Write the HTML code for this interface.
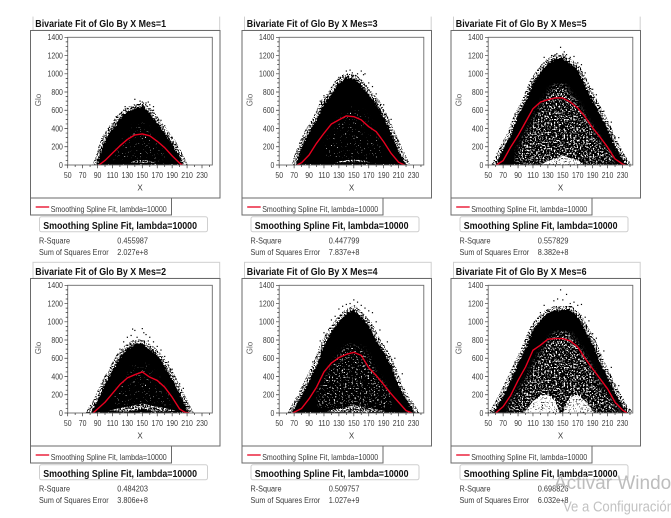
<!DOCTYPE html>
<html lang="en">
<head>
<meta charset="utf-8">
<title>Bivariate Fit of Glo By X</title>
<style>
html,body{margin:0;padding:0;background:#fff;width:671px;height:518px;overflow:hidden}
svg{display:block;font-family:"Liberation Sans",Arial,sans-serif;filter:blur(.3px)}
</style>
</head>
<body>
<svg id="chart" xmlns="http://www.w3.org/2000/svg" width="671" height="518" viewBox="0 0 671 518">
<defs>
<clipPath id="plot-clip"><rect x="67.7" y="37.3" width="144.6" height="127.7"/></clipPath>
<filter id="rough" x="-6%" y="-6%" width="112%" height="112%" color-interpolation-filters="sRGB">
<feTurbulence type="fractalNoise" baseFrequency="0.55" numOctaves="2" seed="7" result="n"/>
<feDisplacementMap in="SourceGraphic" in2="n" scale="5" xChannelSelector="R" yChannelSelector="G"/>
</filter>
<filter id="fringe" x="-10%" y="-10%" width="120%" height="120%" color-interpolation-filters="sRGB">
<feTurbulence type="fractalNoise" baseFrequency="0.7" numOctaves="2" seed="5" result="n"/>
<feColorMatrix in="n" type="matrix" values="0 0 0 0 0 0 0 0 0 0 0 0 0 0 0 14 0 0 0 -7"/>
<feComposite in2="SourceAlpha" operator="in"/>
</filter>
<filter id="fleck-light" x="0" y="0" width="100%" height="100%" color-interpolation-filters="sRGB">
<feGaussianBlur in="SourceAlpha" stdDeviation="2.5" result="soft"/>
<feTurbulence type="fractalNoise" baseFrequency="0.62" numOctaves="2" seed="11" result="n"/>
<feColorMatrix in="n" type="matrix" values="0 0 0 0 1 0 0 0 0 1 0 0 0 0 1 14 0 0 0 -10"/>
<feComposite in2="soft" operator="in"/>
</filter>
<filter id="fleck-medium" x="0" y="0" width="100%" height="100%" color-interpolation-filters="sRGB">
<feGaussianBlur in="SourceAlpha" stdDeviation="2.5" result="soft"/>
<feTurbulence type="fractalNoise" baseFrequency="0.62" numOctaves="2" seed="23" result="n"/>
<feColorMatrix in="n" type="matrix" values="0 0 0 0 1 0 0 0 0 1 0 0 0 0 1 14 0 0 0 -9"/>
<feComposite in2="soft" operator="in"/>
</filter>
<filter id="fleck-heavy" x="0" y="0" width="100%" height="100%" color-interpolation-filters="sRGB">
<feGaussianBlur in="SourceAlpha" stdDeviation="2.5" result="soft"/>
<feTurbulence type="fractalNoise" baseFrequency="0.62" numOctaves="2" seed="31" result="n"/>
<feColorMatrix in="n" type="matrix" values="0 0 0 0 1 0 0 0 0 1 0 0 0 0 1 14 0 0 0 -7.7"/>
<feComposite in2="soft" operator="in"/>
</filter>
<filter id="hollow" x="0" y="0" width="100%" height="100%" color-interpolation-filters="sRGB">
<feTurbulence type="fractalNoise" baseFrequency="0.7" numOctaves="2" seed="17" result="n"/>
<feColorMatrix in="n" type="matrix" values="0 0 0 0 1 0 0 0 0 1 0 0 0 0 1 14 0 0 0 -4.6"/>
<feComposite in2="SourceAlpha" operator="in"/>
</filter>
<filter id="hollow-dense" x="0" y="0" width="100%" height="100%" color-interpolation-filters="sRGB">
<feTurbulence type="fractalNoise" baseFrequency="0.7" numOctaves="2" seed="19" result="n"/>
<feColorMatrix in="n" type="matrix" values="0 0 0 0 1 0 0 0 0 1 0 0 0 0 1 14 0 0 0 -6.6"/>
<feComposite in2="SourceAlpha" operator="in"/>
</filter>
</defs>
</svg>
<script>
// Shared axis labels
const xTickLabels = [50,70,90,110,130,150,170,190,210,230];
const yTickLabels = [0,200,400,600,800,1000,1200,1400];
const xMinorTicks = [60,80,100,120,140,160,180,200,220,240];
const yMinorTicks = [50,100,150,250,300,350,450,500,550,650,700,750,850,900,950,1050,1100,1150,1250,1300,1350];

// Mes=1
const cloudX1 = [89,100,110,120,130,140,150,160,170,180,190,200,205];
const cloudTop1 = [0,275,400,510,585,620,640,570,460,350,240,90,0];
const splineX1 = [92,100,110,120,130,140,150,160,170,180,190,200,204];
const splineY1 = [0,50,130,210,280,330,340,320,260,190,100,20,0];
const sparseX1 = [110,120,130,140,150,160,170,180];
const sparseUpper1 = [60,200,330,420,470,380,250,100];
const sparseLower1 = [60,40,50,50,50,50,50,60];
const holeX1 = [132,140,150,160,168];
const holeUpper1 = [20,45,55,45,20];
const holeLower1 = [20,25,22,25,20];
const looseX1 = [140,147,150,155,158,160,145,150,152,165,130,127,125,120,170,175,180,165,115,100,190,195];
const looseY1 = [720,700,690,680,690,660,660,650,640,640,620,640,600,560,520,490,430,600,530,320,300,220];

// Mes=2
const cloudX2 = [80,90,100,110,120,130,140,150,160,170,180,190,200,210,213];
const cloudTop2 = [0,135,320,465,614,705,760,760,705,630,520,375,210,45,0];
const splineX2 = [84,100,110,120,130,140,150,160,170,180,190,200,207,213];
const splineY2 = [0,118,215,312,385,420,450,393,357,283,173,44,8,0];
const sparseX2 = [110,120,130,140,150,160,170,180,190];
const sparseUpper2 = [150,300,400,520,550,500,400,250,120];
const sparseLower2 = [70,90,100,110,120,110,100,90,70];
const holeX2 = [105,120,135,150,165,180,195];
const holeUpper2 = [25,55,75,105,75,55,25];
const holeLower2 = [25,18,18,40,18,18,25];
const looseX2 = [137,140,150,152,155,130,135,143,158,165,160,120,117,125,180,185,190,200,205,110,100,170,175];
const looseY2 = [920,905,925,880,860,830,850,830,790,780,830,700,640,780,620,560,480,320,270,540,400,730,690];

// Mes=3
const cloudX3 = [72,80,90,100,110,120,130,140,150,160,170,180,190,200,210,220];
const cloudTop3 = [0,200,366,495,678,770,900,960,950,880,770,680,530,350,165,0];
const splineX3 = [74,80,90,100,110,120,130,140,150,160,170,180,190,200,210,218];
const splineY3 = [0,25,110,238,348,450,495,538,530,495,420,365,255,128,30,0];
const sparseX3 = [110,120,130,140,150,160,170,180,190];
const sparseUpper3 = [200,350,500,620,640,600,480,300,150];
const sparseLower3 = [80,80,70,70,70,70,70,80,80];
const holeX3 = [125,135,150,165,175];
const holeUpper3 = [25,50,60,50,25];
const holeLower3 = [25,32,32,32,25];
const looseX3 = [140,145,148,155,160,163,165,135,130,125,120,110,105,170,175,180,190,200,100,90,210,152];
const looseY3 = [1030,1040,1010,1000,1030,990,1000,980,960,910,850,760,700,900,860,780,660,500,580,430,260,980];

// Mes=4
const cloudX4 = [67,80,90,100,110,120,130,140,150,160,170,180,190,200,210,220,230,232];
const cloudTop4 = [0,190,355,520,740,890,1000,1090,1130,1055,960,800,670,520,300,155,25,0];
const splineX4 = [68,80,90,100,110,120,130,140,150,160,170,180,190,200,210,220,228];
const splineY4 = [0,50,155,283,450,548,607,643,665,632,496,412,312,210,118,26,0];
const sparseX4 = [100,110,120,130,140,150,160,170,180,190,200];
const sparseUpper4 = [200,360,500,650,740,760,720,620,440,320,180];
const sparseLower4 = [60,60,60,70,70,75,70,70,60,60,60];
const holeX4 = [112,125,138,150,165,178,192];
const holeUpper4 = [20,45,60,90,60,45,20];
const holeLower4 = [20,12,10,10,10,12,20];
const looseX4 = [150,155,140,160,165,130,135,145,125,120,110,105,100,95,175,170,185,195,205,215,180];
const looseY4 = [1240,1215,1190,1180,1150,1140,1170,1200,1060,1020,880,790,620,560,1100,1120,910,780,600,430,1000];

// Mes=5
const cloudX5 = [60,70,80,90,100,110,120,130,140,150,160,170,180,190,200,210,220,230,236];
const cloudTop5 = [0,176,323,544,690,893,1020,1114,1169,1169,1114,1040,875,710,562,397,213,66,0];
const splineX5 = [61,70,80,90,100,110,120,130,140,150,160,170,180,190,200,210,220,230,234];
const splineY5 = [0,48,195,323,470,617,690,716,735,735,690,625,525,408,305,195,66,11,0];
const sparseX5 = [85,90,100,110,120,130,140,150,160,170,180,190,200,210,220];
const sparseUpper5 = [40,160,340,480,640,780,880,890,780,680,520,400,260,160,60];
const sparseLower5 = [40,30,15,5,5,5,5,5,5,5,5,5,10,20,40];
const holeX5 = [122,130,140,150,160,170,178];
const holeUpper5 = [8,45,70,105,75,50,8];
const holeLower5 = [8,10,8,8,8,10,8];
const looseX5 = [147,152,155,160,165,170,175,180,122,115,125,135,142,105,100,95,90,190,195,205,215,225,150];
const looseY5 = [1290,1240,1210,1180,1190,1120,1100,1010,1100,1000,1180,1200,1220,830,790,640,590,830,770,590,470,300,1215];

// Mes=6
const cloudX6 = [56,60,70,80,90,100,110,120,130,140,150,160,170,180,190,200,210,220,230,238];
const cloudTop6 = [0,44,191,357,540,706,908,1018,1092,1129,1129,1129,1055,908,761,559,393,228,81,0];
const splineX6 = [60,70,80,90,100,110,120,130,140,150,160,170,180,190,200,210,220,230,236];
const splineY6 = [0,70,191,357,504,688,743,809,816,816,790,724,596,485,375,265,118,33,0];
const sparseX6 = [75,80,90,100,110,120,130,140,150,160,170,180,190,200,210,220,228];
const sparseUpper6 = [30,120,230,350,520,660,780,880,900,860,750,620,470,320,200,90,30];
const sparseLower6 = [25,15,5,5,5,5,5,5,5,5,5,5,5,5,5,10,25];
const holeX6 = [98,110,120,130,140,146,150,155,160,170,180,192];
const holeUpper6 = [0,130,190,200,130,0,0,100,180,200,130,0];
const holeLower6 = [0,0,0,0,0,0,0,0,0,0,0,0];
const looseX6 = [147,143,155,138,150,165,170,175,180,125,130,120,112,105,100,95,185,190,195,205,215,225,160];
const looseY6 = [1350,1250,1300,1230,1240,1215,1180,1190,1050,1180,1130,1100,1000,820,780,640,1010,870,820,680,500,300,1200];

// Printed values
const mesValues = [1,2,3,4,5,6];
const rSquareValues = ["0.455987","0.484203","0.447799","0.509757","0.557829","0.698826"];
const sseValues = ["2.027e+8","3.806e+8","7.837e+8","1.027e+9","8.382e+8","6.032e+8"];

const panelSeries = [
  [cloudX1,cloudTop1,splineX1,splineY1,sparseX1,sparseUpper1,sparseLower1,holeX1,holeUpper1,holeLower1,looseX1,looseY1],
  [cloudX2,cloudTop2,splineX2,splineY2,sparseX2,sparseUpper2,sparseLower2,holeX2,holeUpper2,holeLower2,looseX2,looseY2],
  [cloudX3,cloudTop3,splineX3,splineY3,sparseX3,sparseUpper3,sparseLower3,holeX3,holeUpper3,holeLower3,looseX3,looseY3],
  [cloudX4,cloudTop4,splineX4,splineY4,sparseX4,sparseUpper4,sparseLower4,holeX4,holeUpper4,holeLower4,looseX4,looseY4],
  [cloudX5,cloudTop5,splineX5,splineY5,sparseX5,sparseUpper5,sparseLower5,holeX5,holeUpper5,holeLower5,looseX5,looseY5],
  [cloudX6,cloudTop6,splineX6,splineY6,sparseX6,sparseUpper6,sparseLower6,holeX6,holeUpper6,holeLower6,looseX6,looseY6]
];
const fleckFilters = ["fleck-light","fleck-light","fleck-light","fleck-medium","fleck-heavy","fleck-heavy"];
const holeFilters = ["hollow-dense","hollow-dense","hollow-dense","hollow-dense","hollow","hollow"];

// Layout
const colOffsets = [0,211.5,420.5];
const rowOffsets = [0,248];
const plotLeft = 67.7, plotRight = 212.3, plotTop = 37.3, plotBottom = 165;
const xDomainMin = 50, xDomainMax = 243.8, yDomainMin = 0, yDomainMax = 1400;

function xAxis(v){ return plotLeft + (v - xDomainMin) * (plotRight - plotLeft) / (xDomainMax - xDomainMin); }
function yAxis(v){ return plotBottom - (v - yDomainMin) * (plotBottom - plotTop) / (yDomainMax - yDomainMin); }

const NS = "http://www.w3.org/2000/svg";
const root = document.getElementById("chart");
function add(parent, tag, attrs, text){
  const el = document.createElementNS(NS, tag);
  for (const k in attrs) el.setAttribute(k, attrs[k]);
  if (text !== undefined) el.textContent = text;
  parent.appendChild(el);
  return el;
}
function bandPoints(xs, upper, lower){
  const a = xs.map((x,i) => xAxis(x).toFixed(2) + "," + yAxis(upper[i]).toFixed(2));
  const b = xs.map((x,i) => xAxis(x).toFixed(2) + "," + yAxis(lower[i]).toFixed(2)).reverse();
  return a.concat(b).join(" ");
}
const textDark = "#3a3a3a";

mesValues.forEach((mes, i) => {
  const s = panelSeries[i];
  const g = add(root, "g", {transform:"translate(" + colOffsets[Math.floor(i/2)] + "," + rowOffsets[i%2] + ")"});
  
  

  const titleBox = add(g, "rect", {x:33, y:14.3, width:186.7, height:16, fill:"#fff", stroke:"#cfcfcf", "stroke-width":1});
  
  

  const title = add(g, "text", {x:35.3, y:27, "font-size":10.4, "font-weight":"bold", fill:"#111", textLength:130.7, lengthAdjust:"spacingAndGlyphs"}, "Bivariate Fit of Glo By X Mes=" + mes);
  
  

  const frame = add(g, "rect", {x:30.5, y:30.5, width:189.5, height:167.5, fill:"#fff", stroke:"#6a6a6a", "stroke-width":1});
  
  

  const marks = add(g, "g", {"clip-path":"url(#plot-clip)"});
  
  

  const fringe = add(marks, "polygon", {points:bandPoints(s[0], s[1], s[0].map(() => 0)), fill:"#000", stroke:"#000", "stroke-width":8, filter:"url(#fringe)"});
  
  

  const cloud = add(marks, "polygon", {points:bandPoints(s[0], s[1], s[0].map(() => 0)), fill:"#000", filter:"url(#rough)"});
  
  

  const sparse = add(marks, "polygon", {points:bandPoints(s[4], s[5], s[6]), fill:"#fff", filter:"url(#" + fleckFilters[i] + ")"});
  
  

  const hole = add(marks, "polygon", {points:bandPoints(s[7], s[8], s[9]), fill:"#fff", filter:"url(#" + holeFilters[i] + ")"});
  
  

  s[10].forEach((xv, k) => {
    const dot = add(marks, "rect", {x:(xAxis(xv) - 0.6).toFixed(2), y:(yAxis(s[11][k]) - 0.6).toFixed(2), width:1.2, height:1.2, fill:"#000"});
    
    
  });

  const spline = add(marks, "polyline", {points:s[2].map((xv,k) => xAxis(xv).toFixed(2) + "," + yAxis(s[3][k]).toFixed(2)).join(" "), fill:"none", stroke:"#e8001f", "stroke-width":1.4, "stroke-linejoin":"round"});
  
  

  const border = add(g, "rect", {x:plotLeft, y:plotTop, width:plotRight-plotLeft, height:plotBottom-plotTop, fill:"none", stroke:"#6a6a6a", "stroke-width":0.9});
  
  

  let tickPath = "";
  xTickLabels.forEach(v => { tickPath += "M" + xAxis(v).toFixed(2) + " " + plotBottom + "v3.2"; });
  xMinorTicks.forEach(v => { tickPath += "M" + xAxis(v).toFixed(2) + " " + plotBottom + "v2"; });
  yTickLabels.forEach(v => { tickPath += "M" + plotLeft + " " + yAxis(v).toFixed(2) + "h-3.2"; });
  yMinorTicks.forEach(v => { tickPath += "M" + plotLeft + " " + yAxis(v).toFixed(2) + "h-2"; });
  const ticks = add(g, "path", {d:tickPath, stroke:"#333", "stroke-width":0.7, fill:"none"});
  
  

  xTickLabels.forEach(v => {
    const t = add(g, "text", {x:xAxis(v).toFixed(2), y:178, "font-size":8, "text-anchor":"middle", fill:textDark, textLength:String(v).length*3.85, lengthAdjust:"spacingAndGlyphs"}, v);
    
    
  });
  yTickLabels.forEach(v => {
    const w = String(v).length*3.85;
    const t = add(g, "text", {x:(62.9 - w).toFixed(2), y:(yAxis(v)+2.9).toFixed(2), "font-size":8, fill:textDark, textLength:w, lengthAdjust:"spacingAndGlyphs"}, v);
    
    
  });

  const xTitle = add(g, "text", {x:140, y:190.6, "font-size":8, "text-anchor":"middle", fill:textDark}, "X");
  
  

  const yTitle = add(g, "text", {transform:"translate(41,100) rotate(-90)", "font-size":8, "text-anchor":"middle", fill:"#666"}, "Glo");
  
  

  const legendBox = add(g, "rect", {x:30.5, y:198, width:141, height:17, fill:"#fff", stroke:"#6a6a6a", "stroke-width":1});
  
  

  const legendLine = add(g, "line", {x1:35.7, x2:49.2, y1:207, y2:207, stroke:"#e8001f", "stroke-width":1.3});
  
  

  const legendText = add(g, "text", {x:50.7, y:212, "font-size":8.4, fill:textDark, textLength:116, lengthAdjust:"spacingAndGlyphs"}, "Smoothing Spline Fit, lambda=10000");
  
  

  const fitBox = add(g, "rect", {x:39.5, y:216.8, width:168, height:15, rx:2, fill:"#fff", stroke:"#cfcfcf", "stroke-width":1});
  
  

  const fitTitle = add(g, "text", {x:43.3, y:229, "font-size":10.4, "font-weight":"bold", fill:"#111", textLength:153.7, lengthAdjust:"spacingAndGlyphs"}, "Smoothing Spline Fit, lambda=10000");
  
  

  const rLabel = add(g, "text", {x:39, y:243.6, "font-size":8, fill:textDark, textLength:31, lengthAdjust:"spacingAndGlyphs"}, "R-Square");
  
  

  const rValue = add(g, "text", {x:117.3, y:243.6, "font-size":8, fill:textDark, textLength:30.7, lengthAdjust:"spacingAndGlyphs"}, rSquareValues[i]);
  
  

  const sLabel = add(g, "text", {x:39, y:255.2, "font-size":8, fill:textDark, textLength:69.7, lengthAdjust:"spacingAndGlyphs"}, "Sum of Squares Error");
  
  

  const sValue = add(g, "text", {x:117.3, y:255.2, "font-size":8, fill:textDark, textLength:30.7, lengthAdjust:"spacingAndGlyphs"}, sseValues[i]);
  
  
});

const topMask = add(root, "rect", {x:0, y:0, width:671, height:16.6, fill:"#fff"});



const wm1 = add(root, "text", {x:554, y:489, "font-size":19, fill:"#bdbdbd"}, "Activar Windows");



const wm2 = add(root, "text", {x:563, y:511.5, "font-size":14.5, fill:"#c2c2c2", textLength:111, lengthAdjust:"spacingAndGlyphs"}, "Ve a Configuración");


</script>
</body>
</html>
